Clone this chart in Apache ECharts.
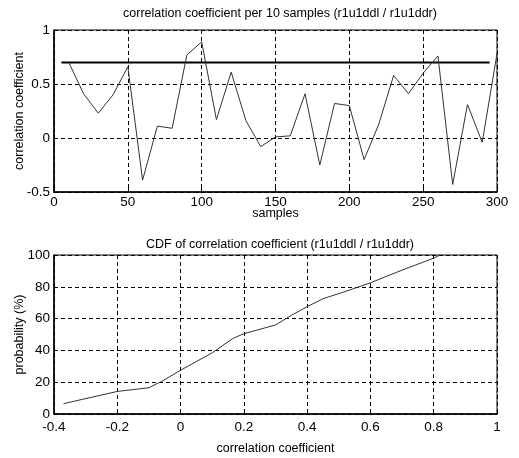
<!DOCTYPE html>
<html>
<head>
<meta charset="utf-8">
<script src="https://cdn.jsdelivr.net/npm/echarts@6/dist/echarts.min.js"></script>
<style>
  html, body { margin: 0; padding: 0; background: #fff; }
  #main { width: 519px; height: 458px; }
</style>
</head>
<body>
<div id="main"></div>
<script>
// top plot: correlation coefficient every 10 samples
var samples = [10, 20, 30, 40, 50, 60, 70, 80, 90, 100,
               110, 120, 130, 140, 150, 160, 170, 180, 190, 200,
               210, 220, 230, 240, 250, 260, 270, 280, 290, 300];
var corrValues = [0.70, 0.41, 0.23, 0.40, 0.66, -0.39, 0.11, 0.09, 0.77, 0.89,
                  0.17, 0.61, 0.16, -0.08, 0.01, 0.02, 0.41, -0.25, 0.32, 0.30,
                  -0.20, 0.13, 0.58, 0.41, 0.60, 0.76, -0.43, 0.31, -0.04, 0.78];
// horizontal reference line
var refX = [5, 295];
var refY = [0.70, 0.70];

// bottom plot: CDF
var cdfX = [-0.37, -0.2, -0.1, -0.06, 0.0, 0.1, 0.165, 0.2, 0.3, 0.35,
            0.4, 0.45, 0.52, 0.6, 0.7, 0.8, 0.82];
var cdfY = [6.5, 14.2, 16.5, 20.5, 27.5, 38.5, 47.5, 50.5, 56, 62,
            67.5, 72.5, 77, 82.5, 90.5, 98, 100];

var titles = ['correlation coefficient per 10 samples (r1u1ddl / r1u1ddr)',
              'CDF of correlation coefficient (r1u1ddl / r1u1ddr)'];

function pairs(xs, ys) {
    var out = [];
    for (var i = 0; i < xs.length; i++) {
        out.push([xs[i], ys[i]]);
    }
    return out;
}

var font = 'Liberation Sans, Arial, sans-serif';
var gridLine = { show: true, lineStyle: { color: '#000', width: 1, type: [4, 3] } };
var axLine = { show: true, onZero: false, lineStyle: { color: '#000', width: 1.5 } };
var tick = { show: true, inside: true, length: 4, lineStyle: { color: '#000' } };
var nameStyle = { color: '#000', fontSize: 12.5, fontFamily: font };

var myChart = echarts.init(document.getElementById('main'));
var option = {
    backgroundColor: '#fff',
    animation: false,
    title: [
        {
            text: titles[0], left: 275, top: 2, textAlign: 'center',
            textStyle: { color: '#000', fontSize: 12.5, fontWeight: 'normal', fontFamily: font }
        },
        {
            text: titles[1], left: 275, top: 233, textAlign: 'center',
            textStyle: { color: '#000', fontSize: 12.5, fontWeight: 'normal', fontFamily: font }
        }
    ],
    grid: [
        { left: 54, top: 30, width: 443, height: 162, show: true, borderColor: '#000', borderWidth: 1 },
        { left: 54, top: 255, width: 443, height: 159, show: true, borderColor: '#000', borderWidth: 1 }
    ],
    xAxis: [
        {
            gridIndex: 0, type: 'value', min: 0, max: 300, interval: 50,
            name: 'samples', nameLocation: 'middle', nameGap: 15, nameMoveOverlap: false,
            nameTextStyle: nameStyle,
            axisLine: axLine, axisTick: tick, splitLine: gridLine,
            axisLabel: { color: '#000', fontSize: 13.5, fontFamily: font, margin: 3 }
        },
        {
            gridIndex: 1, type: 'value', min: -0.4, max: 1, interval: 0.2,
            name: 'correlation coefficient', nameLocation: 'middle', nameGap: 28, nameMoveOverlap: false,
            nameTextStyle: nameStyle,
            axisLine: axLine, axisTick: tick, splitLine: gridLine,
            axisLabel: { color: '#000', fontSize: 13.5, fontFamily: font, margin: 6 }
        }
    ],
    yAxis: [
        {
            gridIndex: 0, type: 'value', min: -0.5, max: 1, interval: 0.5,
            name: 'correlation coefficient', nameLocation: 'middle', nameGap: 28, nameMoveOverlap: false,
            nameTextStyle: nameStyle,
            axisLine: axLine, axisTick: tick, splitLine: gridLine,
            axisLabel: { color: '#000', fontSize: 13.5, fontFamily: font, margin: 4 }
        },
        {
            gridIndex: 1, type: 'value', min: 0, max: 100, interval: 20,
            name: 'probability (%)', nameLocation: 'middle', nameGap: 28, nameMoveOverlap: false,
            nameTextStyle: nameStyle,
            axisLine: axLine, axisTick: tick, splitLine: gridLine,
            axisLabel: { color: '#000', fontSize: 13.5, fontFamily: font, margin: 4 }
        }
    ],
    series: [
        {
            name: 'reference', type: 'line', xAxisIndex: 0, yAxisIndex: 0,
            data: pairs(refX, refY), showSymbol: false,
            lineStyle: { color: '#000', width: 2 }
        },
        {
            name: 'correlation', type: 'line', xAxisIndex: 0, yAxisIndex: 0,
            data: pairs(samples, corrValues), showSymbol: false,
            lineStyle: { color: '#333', width: 1 }
        },
        {
            name: 'cdf', type: 'line', xAxisIndex: 1, yAxisIndex: 1,
            data: pairs(cdfX, cdfY), showSymbol: false,
            lineStyle: { color: '#333', width: 1 }
        }
    ]
};
myChart.setOption(option);
</script>
</body>
</html>
